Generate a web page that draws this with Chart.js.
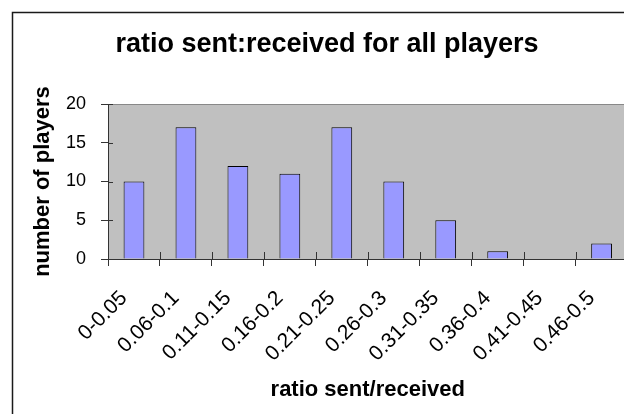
<!DOCTYPE html>
<html>
<head>
<meta charset="utf-8">
<script src="https://cdn.jsdelivr.net/npm/chart.js@4/dist/chart.umd.min.js"></script>
<style>
  html, body { margin: 0; padding: 0; overflow: hidden; background: #fff; }
  canvas { display: block; }
</style>
</head>
<body>
<canvas id="chart" width="640" height="414"></canvas>
<script>
// Histogram of the sent:received ratio across all players
const categories = ['0-0.05', '0.06-0.1', '0.11-0.15', '0.16-0.2', '0.21-0.25',
                    '0.26-0.3', '0.31-0.35', '0.36-0.4', '0.41-0.45', '0.46-0.5'];
const playerCounts = [10, 17, 12, 11, 17, 10, 5, 1, 0, 2];
const yTicks = [0, 5, 10, 15, 20];

const FONT = "'Liberation Sans', Arial, sans-serif";

// Outer frame, grey plot background and tick marks that cross the axes
const framePlugin = {
  id: 'frame',
  beforeDraw(chart) {
    const { ctx, chartArea: a } = chart;
    ctx.save();
    ctx.strokeStyle = '#1a1a1a';
    ctx.lineWidth = 1.5;
    ctx.strokeRect(12.5, 12.5, chart.width + 40, chart.height + 40);
    ctx.fillStyle = '#c0c0c0';
    ctx.fillRect(a.left, a.top, a.right - a.left, a.bottom - a.top);
    ctx.strokeStyle = '#888888';
    ctx.lineWidth = 1;
    ctx.strokeRect(a.left + 0.5, a.top + 0.5, a.right - a.left, a.bottom - a.top);
    ctx.restore();
  },
  afterDatasetsDraw(chart) {
    const { ctx, chartArea: a, scales: { x, y } } = chart;
    ctx.save();
    ctx.strokeStyle = '#333333';
    ctx.lineWidth = 1;
    ctx.beginPath();
    for (let i = 0; i <= categories.length; i++) {
      const px = Math.round(x.getPixelForValue(i - 0.5)) + 0.5;
      ctx.moveTo(px, a.bottom - 7);
      ctx.lineTo(px, a.bottom);
    }
    yTicks.forEach(v => {
      const py = Math.round(y.getPixelForValue(v)) + 0.5;
      ctx.moveTo(a.left, py);
      ctx.lineTo(a.left + 5, py);
    });
    ctx.stroke();
    ctx.restore();
  }
};

new Chart(document.getElementById('chart'), {
  type: 'bar',
  data: {
    labels: categories,
    datasets: [{
      data: playerCounts,
      backgroundColor: '#9999ff',
      borderColor: '#000000',
      borderWidth: 1,
      categoryPercentage: 1.0,
      barPercentage: 0.4
    }]
  },
  options: {
    responsive: false,
    animation: false,
    layout: { padding: { left: 26, right: 12, top: 0, bottom: 0 } },
    plugins: {
      legend: { display: false },
      tooltip: { enabled: false },
      title: {
        display: true,
        text: 'ratio sent:received for all players',
        color: '#000',
        font: { family: FONT, size: 27, weight: 'bold' },
        padding: { top: 28, bottom: 43.6 }
      }
    },
    scales: {
      x: {
        afterFit(scale) { scale.height = 155; },
        grid: {
          offset: true,
          drawOnChartArea: false,
          drawTicks: true,
          tickLength: 7,
          color: '#333333'
        },
        border: { display: true, color: '#333333', width: 1 },
        ticks: {
          autoSkip: false,
          minRotation: 45,
          maxRotation: 45,
          padding: 20,
          labelOffset: -10,
          color: '#000',
          font: { family: FONT, size: 21 }
        },
        title: {
          display: true,
          text: 'ratio sent/received',
          color: '#000',
          font: { family: FONT, size: 22, weight: 'bold' },
          padding: { top: 0, bottom: 11 }
        }
      },
      y: {
        min: 0,
        max: 20,
        afterFit(scale) { scale.width = 82; },
        afterBuildTicks(scale) { scale.ticks = yTicks.map(v => ({ value: v })); },
        grid: {
          drawOnChartArea: false,
          drawTicks: true,
          tickLength: 7,
          color: '#333333'
        },
        border: { display: true, color: '#333333', width: 1 },
        ticks: {
          padding: 15,
          color: '#000',
          font: { family: FONT, size: 18 }
        },
        title: {
          display: true,
          text: 'number of players',
          color: '#000',
          font: { family: FONT, size: 22, weight: 'bold' },
          padding: { top: 4, bottom: 0 }
        }
      }
    }
  },
  plugins: [framePlugin]
});
</script>
</body>
</html>
